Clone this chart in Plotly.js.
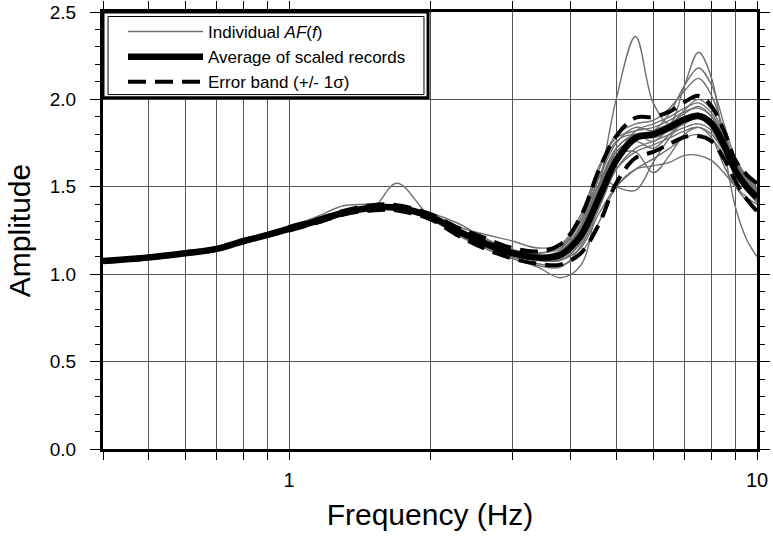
<!DOCTYPE html>
<html><head><meta charset="utf-8">
<script src="https://cdn.plot.ly/plotly-3.0.1.min.js"></script>
<style>html,body{margin:0;padding:0;background:#fff}#chart{width:773px;height:538px}</style>
</head><body><div id="chart"></div>
<script>
const freqHz = [0.4,0.5,0.6,0.7,0.8,0.9,1.0,1.15,1.3,1.5,1.7,2.0,2.3,2.6,3.0,3.4,3.8,4.2,4.6,5.0,5.5,6.0,6.5,7.0,7.5,8.0,8.5,9.0,9.5,10];

const avgAmp   = [1.075,1.095,1.12,1.145,1.19,1.225,1.26,1.305,1.35,1.38,1.38,1.33,1.245,1.18,1.12,1.095,1.11,1.22,1.44,1.65,1.78,1.80,1.84,1.885,1.905,1.86,1.74,1.59,1.50,1.44];
const upperAmp = [1.08,1.10,1.125,1.15,1.195,1.23,1.27,1.315,1.36,1.395,1.395,1.345,1.265,1.21,1.15,1.13,1.17,1.33,1.60,1.79,1.895,1.90,1.93,1.985,2.02,1.96,1.82,1.65,1.57,1.52];
const lowerAmp = [1.07,1.09,1.115,1.14,1.185,1.22,1.25,1.295,1.34,1.365,1.365,1.315,1.22,1.15,1.09,1.06,1.055,1.12,1.29,1.52,1.665,1.70,1.745,1.785,1.79,1.76,1.66,1.53,1.43,1.36];

const rec01 = [1.075,1.095,1.12,1.145,1.19,1.225,1.26,1.30,1.345,1.375,1.37,1.32,1.235,1.16,1.09,1.04,0.98,1.05,1.50,2.00,2.36,1.98,1.86,2.08,2.27,2.12,1.72,1.38,1.20,1.10];
const rec02 = [1.075,1.095,1.12,1.145,1.19,1.225,1.26,1.31,1.35,1.37,1.52,1.33,1.25,1.19,1.13,1.10,1.12,1.25,1.46,1.66,1.78,1.80,1.85,1.90,1.92,1.87,1.75,1.62,1.52,1.45];
const rec03 = [1.07,1.09,1.115,1.14,1.185,1.22,1.255,1.30,1.345,1.375,1.37,1.32,1.23,1.17,1.11,1.09,1.10,1.20,1.42,1.66,1.82,1.86,1.90,1.95,1.98,1.92,1.78,1.64,1.52,1.44];
const rec04 = [1.08,1.10,1.125,1.155,1.195,1.23,1.27,1.33,1.39,1.40,1.39,1.34,1.26,1.20,1.14,1.12,1.15,1.30,1.55,1.75,1.84,1.82,1.86,1.92,1.96,1.90,1.76,1.62,1.53,1.47];
const rec05 = [1.075,1.095,1.12,1.14,1.19,1.225,1.26,1.305,1.35,1.38,1.38,1.33,1.24,1.17,1.11,1.08,1.08,1.15,1.35,1.50,1.60,1.66,1.72,1.78,1.80,1.77,1.68,1.58,1.50,1.44];
const rec06 = [1.075,1.095,1.125,1.15,1.19,1.225,1.26,1.305,1.35,1.38,1.38,1.335,1.25,1.19,1.13,1.10,1.12,1.25,1.48,1.70,1.76,1.72,1.80,1.88,1.90,1.84,1.72,1.60,1.50,1.43];
const rec07 = [1.075,1.095,1.12,1.145,1.19,1.225,1.26,1.305,1.35,1.38,1.375,1.33,1.24,1.17,1.11,1.08,1.09,1.24,1.56,1.50,1.48,1.64,1.78,1.88,1.92,1.88,1.76,1.62,1.52,1.45];
const rec08 = [1.075,1.095,1.12,1.145,1.19,1.225,1.26,1.305,1.35,1.38,1.38,1.33,1.245,1.18,1.12,1.10,1.13,1.28,1.52,1.68,1.70,1.58,1.68,1.80,1.84,1.80,1.70,1.58,1.49,1.42];
const rec09 = [1.075,1.095,1.12,1.145,1.19,1.225,1.26,1.30,1.345,1.37,1.37,1.32,1.23,1.16,1.10,1.06,1.05,1.12,1.30,1.50,1.60,1.62,1.64,1.68,1.68,1.65,1.58,1.50,1.44,1.40];
const rec10 = [1.08,1.10,1.125,1.15,1.195,1.23,1.265,1.31,1.355,1.385,1.385,1.335,1.25,1.18,1.12,1.10,1.14,1.32,1.60,1.80,1.86,1.88,1.95,2.05,2.12,2.02,1.82,1.64,1.54,1.48];
const rec11 = [1.075,1.095,1.12,1.145,1.19,1.225,1.26,1.305,1.35,1.385,1.38,1.33,1.245,1.17,1.11,1.09,1.10,1.24,1.50,1.72,1.80,1.82,1.92,2.08,2.18,2.08,1.86,1.66,1.55,1.50];
const rec12 = [1.075,1.095,1.12,1.145,1.19,1.225,1.26,1.305,1.35,1.38,1.38,1.335,1.25,1.18,1.12,1.10,1.13,1.27,1.52,1.72,1.80,1.78,1.82,1.86,1.90,1.86,1.74,1.60,1.50,1.42];
const rec13 = [1.075,1.095,1.12,1.145,1.19,1.225,1.265,1.31,1.355,1.39,1.39,1.345,1.27,1.23,1.19,1.15,1.17,1.34,1.62,1.78,1.82,1.84,1.88,1.93,1.95,1.90,1.78,1.66,1.56,1.49];
const rec14 = [1.07,1.09,1.115,1.14,1.185,1.22,1.255,1.30,1.34,1.37,1.365,1.315,1.22,1.15,1.09,1.05,1.04,1.16,1.38,1.60,1.72,1.76,1.80,1.84,1.86,1.82,1.70,1.58,1.48,1.41];
const rec15 = [1.075,1.095,1.12,1.145,1.19,1.225,1.26,1.305,1.35,1.38,1.38,1.33,1.24,1.18,1.12,1.09,1.08,1.18,1.42,1.64,1.76,1.82,1.86,1.90,1.91,1.86,1.74,1.60,1.50,1.42];
const rec16 = [1.08,1.10,1.125,1.15,1.195,1.23,1.265,1.31,1.355,1.385,1.39,1.35,1.29,1.21,1.14,1.12,1.16,1.30,1.56,1.76,1.80,1.76,1.84,1.94,2.00,1.94,1.80,1.64,1.54,1.48];
const rec17 = [1.075,1.095,1.12,1.145,1.19,1.225,1.26,1.305,1.35,1.38,1.375,1.325,1.24,1.17,1.11,1.08,1.08,1.18,1.40,1.60,1.70,1.74,1.78,1.82,1.84,1.78,1.62,1.50,1.42,1.36];
const rec18 = [1.075,1.095,1.12,1.145,1.19,1.225,1.26,1.31,1.355,1.385,1.385,1.34,1.255,1.19,1.12,1.10,1.12,1.26,1.50,1.70,1.78,1.80,1.86,1.90,1.92,1.88,1.76,1.62,1.52,1.46];

const records = [rec01,rec02,rec03,rec04,rec05,rec06,rec07,rec08,rec09,rec10,rec11,rec12,rec13,rec14,rec15,rec16,rec17,rec18];

const xTickVals = [0.4,0.5,0.6,0.7,0.8,0.9,1,2,3,4,5,6,7,8,9,10];
const xTickText = ['','','','','','','1','','','','','','','','','10'];

const FONT = 'Liberation Sans, Arial, Helvetica, sans-serif';
const traces = [];
records.forEach(function (r, i) {
  traces.push({
    type: 'scatter', mode: 'lines', x: freqHz, y: r,
    line: {color: '#707070', width: 1.4, shape: 'spline', smoothing: 1},
    name: 'Individual <i>AF</i>(<i>f</i>)', legendgroup: 'ind',
    showlegend: i === 0, hoverinfo: 'skip'
  });
});
traces.push({type: 'scatter', mode: 'lines', x: freqHz, y: avgAmp,
  line: {color: '#000', width: 6.5, shape: 'spline', smoothing: 1},
  name: 'Average of scaled records'});
traces.push({type: 'scatter', mode: 'lines', x: freqHz, y: upperAmp,
  line: {color: '#000', width: 4, dash: '18px,9px', shape: 'spline', smoothing: 1},
  name: 'Error band (+/- 1σ)', legendgroup: 'err'});
traces.push({type: 'scatter', mode: 'lines', x: freqHz, y: lowerAmp,
  line: {color: '#000', width: 4, dash: '18px,9px', shape: 'spline', smoothing: 1},
  name: 'Error band lower', legendgroup: 'err', showlegend: false});

const layout = {
  width: 773, height: 538,
  margin: {l: 103, r: 16, t: 12, b: 89, pad: 0},
  paper_bgcolor: '#fff', plot_bgcolor: '#fff',
  font: {family: FONT, color: '#000'},
  showlegend: true,
  xaxis: {
    type: 'log', range: [Math.log10(0.4), 1],
    tickmode: 'array', tickvals: xTickVals, ticktext: xTickText,
    ticks: 'outside', ticklen: 8, tickwidth: 1, tickcolor: '#000',
    showgrid: true, gridcolor: '#555', gridwidth: 1,
    showline: true, linecolor: '#000', linewidth: 3, mirror: 'allticks',
    zeroline: false,
    tickfont: {size: 20, family: FONT},
    ticklabelstandoff: 3,
    title: {text: 'Frequency (Hz)', font: {size: 30, family: FONT}, standoff: 14}
  },
  yaxis: {
    range: [0, 2.5], dtick: 0.5, tick0: 0, tickformat: '.1f',
    ticks: 'outside', ticklen: 10, tickwidth: 1, tickcolor: '#000',
    minor: {dtick: 0.1, ticks: 'outside', ticklen: 5, tickwidth: 1, tickcolor: '#000', showgrid: false},
    showgrid: true, gridcolor: '#555', gridwidth: 1,
    showline: true, linecolor: '#000', linewidth: 3, mirror: 'allticks',
    zeroline: false,
    tickfont: {size: 19, family: FONT},
    ticklabelstandoff: 10,
    title: {text: 'Amplitude', font: {size: 30, family: FONT}, standoff: 11}
  },
  legend: {
    x: 0.0306, y: 0.9954, xanchor: 'left', yanchor: 'top',
    bgcolor: 'rgba(0,0,0,0)', borderwidth: 0,
    font: {size: 17, family: FONT, color: '#000'},
    itemwidth: 75, tracegroupgap: 0, traceorder: 'normal'
  },
  shapes: [
    {type: 'rect', xref: 'paper', yref: 'paper', x0: 0, x1: 0.497, y0: 0.804, y1: 1,
     fillcolor: '#fff', line: {color: '#000', width: 3}, layer: 'above'},
    {type: 'rect', xref: 'paper', yref: 'paper', x0: 0.0077, x1: 0.4908, y0: 0.811, y1: 0.9897,
     fillcolor: 'rgba(0,0,0,0)', line: {color: '#000', width: 1}, layer: 'above'}
  ]
};

Plotly.newPlot('chart', traces, layout, {displayModeBar: false, staticPlot: true});
</script>
</body></html>
